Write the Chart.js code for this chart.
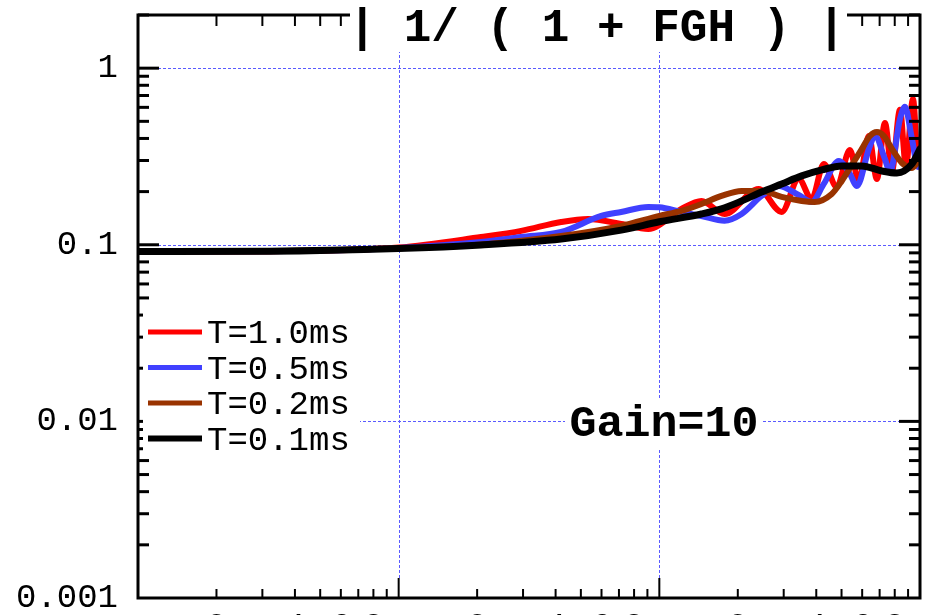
<!DOCTYPE html>
<html>
<head>
<meta charset="utf-8">
<title>1/(1+FGH)</title>
<script src="https://cdn.jsdelivr.net/npm/chart.js@4.4.1/dist/chart.umd.min.js"></script>
<style>
  html, body { margin: 0; padding: 0; background: #fff; overflow: hidden; }
  canvas { display: block; }
</style>
</head>
<body>
<canvas id="gainChart" width="928" height="615"></canvas>
<script>
// frequency (Hz) and |1/(1+FGH)|, one pair of arrays per delay
const freqT10 = [10, 32, 100, 207, 295, 420, 533, 714, 907, 1215, 1451, 1778, 2404, 2946, 3424, 3842, 4274, 4795, 5381, 5826, 6365, 6834, 7336, 7804, 8378, 8833, 9400, 9825, 10000];
const magT10 = [0.0916, 0.0920, 0.0965, 0.1107, 0.1199, 0.1346, 0.1400, 0.1312, 0.1229, 0.1596, 0.1770, 0.1494, 0.2070, 0.1534, 0.2360, 0.1817, 0.2870, 0.2126, 0.3440, 0.2299, 0.4134, 0.2360, 0.4900, 0.2618, 0.5807, 0.2795, 0.6700, 0.2985, 0.3140];

const freqT05 = [10, 32, 100, 207, 295, 420, 598, 714, 907, 1000, 1215, 1451, 1778, 2068, 2468, 2869, 3424, 3842, 4274, 4881, 5383, 5723, 6368, 6714, 7336, 7667, 8378, 8754, 9316, 9825, 10000];
const magT05 = [0.0916, 0.0920, 0.0960, 0.1037, 0.1107, 0.1182, 0.1456, 0.1534, 0.1637, 0.1630, 0.1534, 0.1456, 0.1370, 0.1494, 0.1890, 0.2153, 0.1915, 0.1748, 0.2210, 0.2985, 0.2520, 0.2153, 0.3490, 0.4134, 0.3060, 0.2585, 0.5160, 0.6040, 0.3975, 0.2760, 0.2944];

const freqT02 = [10, 32, 100, 207, 420, 714, 1000, 1215, 1451, 1732, 2068, 2468, 2946, 3517, 3946, 4586, 5012, 5477, 5983, 6423, 6834, 7270, 7804, 8526, 9316, 10000];
const magT02 = [0.0916, 0.0920, 0.0955, 0.1005, 0.1122, 0.1280, 0.1456, 0.1554, 0.1702, 0.1890, 0.2018, 0.2018, 0.1866, 0.1770, 0.1748, 0.1940, 0.2299, 0.2830, 0.3490, 0.4134, 0.4355, 0.4134, 0.3490, 0.2906, 0.2723, 0.3060];

const freqT01 = [10, 32, 100, 207, 420, 714, 1000, 1451, 1732, 2068, 2468, 2946, 3517, 4199, 5012, 5983, 7144, 8157, 9316, 10000];
const magT01 = [0.0916, 0.0920, 0.0953, 0.0998, 0.1078, 0.1210, 0.1350, 0.1494, 0.1596, 0.1770, 0.1990, 0.2210, 0.2455, 0.2655, 0.2795, 0.2795, 0.2618, 0.2550, 0.2870, 0.3490];

const seriesLabels = ['T=1.0ms', 'T=0.5ms', 'T=0.2ms', 'T=0.1ms'];
const seriesColors = ['#ff0000', '#4040ff', '#993300', '#000000'];

const xTickValues = [10, 20, 30, 40, 50, 60, 70, 80, 90,
  100, 200, 300, 400, 500, 600, 700, 800, 900,
  1000, 2000, 3000, 4000, 5000, 6000, 7000, 8000, 9000, 10000];
const xTickLabels = ['', '2', '', '4', '', '6', '', '8', '',
  '', '2', '', '4', '', '6', '', '8', '',
  '', '2', '', '4', '', '6', '', '8', '', ''];
const xGridValues = [100, 1000];

const yTickValues = [0.001, 0.01, 0.1, 1];
const yTickLabels = ['0.001', '0.01', '0.1', '1'];
const yGridValues = [0.01, 0.1, 1];

const titleText = '| 1/ ( 1 + FGH ) |';
const noteText = 'Gain=10';

const MONO = '"Liberation Mono", "DejaVu Sans Mono", monospace';

function seg(ctx, x1, y1, x2, y2) {
  ctx.beginPath();
  ctx.moveTo(x1, y1);
  ctx.lineTo(x2, y2);
  ctx.stroke();
}

function points(xs, ys) {
  return xs.map((f, i) => ({ x: f, y: ys[i] }));
}

const yMinorValues = [];
yTickValues.forEach(d => {
  for (let m = 2; m <= 9; m++) {
    if (m * d <= 2) yMinorValues.push(m * d);
  }
});

const frame = {
  id: 'frame',
  beforeDatasetsDraw(chart) {
    const { ctx, chartArea: a, scales: { x, y } } = chart;
    ctx.save();
    ctx.strokeStyle = '#5a5aff';
    ctx.lineWidth = 1;
    ctx.setLineDash([3, 2]);
    xGridValues.forEach(v => {
      const px = Math.round(x.getPixelForValue(v)) + 0.5;
      seg(ctx, px, a.top + 20, px, a.bottom - 20);
    });
    yGridValues.forEach(v => {
      const py = Math.round(y.getPixelForValue(v)) + 0.5;
      seg(ctx, a.left + 20, py, a.right - 20, py);
    });
    ctx.restore();
  },
  afterDatasetsDraw(chart) {
    const { ctx, chartArea: a, scales: { x, y } } = chart;
    ctx.save();
    ctx.strokeStyle = '#000';
    ctx.lineWidth = 3;
    ctx.strokeRect(a.left, a.top, a.right - a.left, a.bottom - a.top);

    // inward ticks on all four sides
    ctx.lineWidth = 2;
    xTickValues.forEach(v => {
      if (v <= 10 || v >= 10000) return;
      const px = x.getPixelForValue(v);
      const major = xGridValues.includes(v);
      seg(ctx, px, a.bottom, px, a.bottom - (major ? 20 : 9));
      seg(ctx, px, a.top, px, a.top + (major ? 20 : 11));
    });
    ctx.lineWidth = 3;
    yTickValues.concat(yMinorValues).forEach(v => {
      if (v <= 0.001) return;
      const py = y.getPixelForValue(v);
      const len = yTickValues.includes(v) ? 21 : 11;
      seg(ctx, a.left, py, a.left + len, py);
      seg(ctx, a.right, py, a.right - len, py);
    });

    // legend
    ctx.fillStyle = '#fff';
    ctx.fillRect(143, 310, 217, 145);
    seriesLabels.forEach((label, i) => {
      const rowY = 332 + i * 35.5;
      ctx.strokeStyle = seriesColors[i];
      ctx.lineWidth = i === 3 ? 6 : 5;
      seg(ctx, 148, rowY, 202, rowY);
      ctx.fillStyle = '#000';
      ctx.font = '34px ' + MONO;
      ctx.textAlign = 'left';
      ctx.textBaseline = 'alphabetic';
      ctx.fillText(label, 207, rowY + 11);
    });

    // note
    ctx.fillStyle = '#fff';
    ctx.fillRect(565, 398, 198, 50);
    ctx.fillStyle = '#000';
    ctx.font = 'bold 45px ' + MONO;
    ctx.textAlign = 'center';
    ctx.fillText(noteText, 664, 436);

    // title sits on top of the upper axis
    ctx.fillStyle = '#fff';
    ctx.fillRect(350, 0, 497, 52);
    ctx.fillStyle = '#000';
    ctx.font = 'bold 46px ' + MONO;
    ctx.fillText(titleText, 597, 41);
    ctx.restore();
  }
};

Chart.defaults.font.family = MONO;
Chart.defaults.color = '#000';

const freqSets = [freqT10, freqT05, freqT02, freqT01];
const magSets = [magT10, magT05, magT02, magT01];

new Chart(document.getElementById('gainChart'), {
  type: 'line',
  data: {
    datasets: seriesLabels.map((label, i) => ({
      label: label,
      data: points(freqSets[i], magSets[i]),
      borderColor: seriesColors[i],
      borderWidth: i === 3 ? 7 : 6,
      pointRadius: 0,
      cubicInterpolationMode: 'monotone',
      borderJoinStyle: 'round',
      borderCapStyle: 'round',
      fill: false,
      order: 3 - i
    }))
  },
  options: {
    responsive: false,
    animation: false,
    devicePixelRatio: 1,
    layout: { padding: { top: 15, right: 8, left: 0, bottom: 0 } },
    plugins: {
      legend: { display: false },
      tooltip: { enabled: false }
    },
    scales: {
      x: {
        type: 'logarithmic',
        min: 10,
        max: 10000,
        grid: { display: false, drawTicks: false },
        border: { display: false },
        afterBuildTicks: s => { s.ticks = xTickValues.map(v => ({ value: v })); },
        afterFit: s => { s.height = 17; s.paddingLeft = 0; s.paddingRight = 0; },
        ticks: {
          autoSkip: false,
          maxRotation: 0,
          minRotation: 0,
          padding: 9,
          font: { size: 34 },
          callback: (v, i) => xTickLabels[i]
        }
      },
      y: {
        type: 'logarithmic',
        min: 0.001,
        max: 2,
        grid: { display: false, drawTicks: false },
        border: { display: false },
        afterBuildTicks: s => { s.ticks = yTickValues.map(v => ({ value: v })); },
        afterFit: s => { s.width = 138; s.paddingTop = 0; s.paddingBottom = 0; },
        ticks: {
          padding: 20,
          font: { size: 34 },
          callback: (v, i) => yTickLabels[i]
        }
      }
    }
  },
  plugins: [frame]
});
</script>
</body>
</html>
